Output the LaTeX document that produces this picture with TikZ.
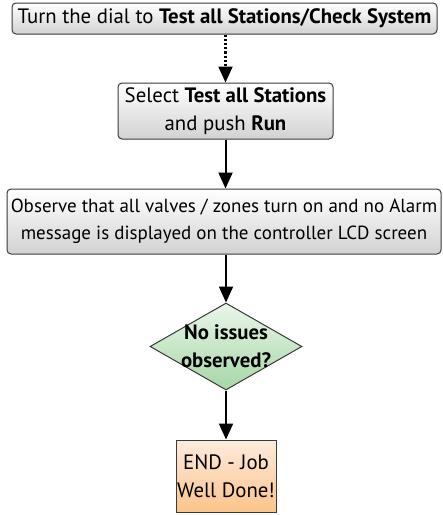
\documentclass[tikz,border=0pt]{standalone}
\usepackage{fontspec}
\setmainfont{PT Sans}
\usetikzlibrary{arrows.meta,shapes.geometric}
\definecolor{boxborder}{HTML}{3A3A3A}
\definecolor{graybot}{HTML}{D2D2D2}
\definecolor{greentop}{HTML}{EAF6EA}
\definecolor{greenbot}{HTML}{A6D7A6}
\definecolor{orangetop}{HTML}{FDEBDD}
\definecolor{orangebot}{HTML}{FBC48A}
\tikzset{
  graybox/.style={draw=boxborder, line width=1pt, rounded corners=4pt,
    top color=white, bottom color=graybot, align=center, inner sep=0pt},
  decision/.style={diamond, draw=boxborder, line width=1pt,
    top color=greentop, bottom color=greenbot, inner sep=0pt, aspect=1.75},
  endbox/.style={draw=boxborder, line width=1pt,
    top color=orangetop, bottom color=orangebot, align=center, inner sep=0pt},
  flow/.style={line width=2pt, -{Triangle[length=16pt,width=14pt]}},
  dotflow/.style={line width=2.2pt, dotted, -{Triangle[length=16pt,width=14pt]}},
  txt/.style={font=\fontsize{19}{27}\selectfont},
  bigtxt/.style={font=\fontsize{20.8}{28}\selectfont}
}
\begin{document}
\begin{tikzpicture}[x=1pt,y=-1pt]
\useasboundingbox (0,0) rectangle (443,515);
\node[graybox, bigtxt, minimum width=425pt, minimum height=31pt] (b1) at (224.5,18.5)
  {Turn the dial to \textbf{Test all Stations/Check System}};
\node[graybox, bigtxt, minimum width=215pt, minimum height=56pt] (b2) at (225.5,111)
  {Select \textbf{Test all Stations}\\ and push \textbf{Run}};
\node[graybox, txt, minimum width=434pt, minimum height=65pt] (b3) at (224,221.5)
  {Observe that all valves / zones turn on and no Alarm\\ message is displayed on the controller LCD screen};
\node[decision, minimum width=152pt, minimum height=87pt] (d) at (226,346.5) {};
\node[bigtxt, align=center, inner sep=0pt] (dt) at (d.center)
  {\textbf{No issues}\\ \textbf{observed?}};
\node[endbox, bigtxt, minimum width=100pt, minimum height=72pt] (e) at (226,476)
  {END - Job\\ Well Done!};
\draw[dotflow] (b1.south -| b2.north) -- (b2.north);
\draw[flow] (b2.south) -- (b2.south |- b3.north);
\draw[flow] (b3.south -| d.north) -- (d.north);
\draw[flow] (d.south) -- (e.north);
\end{tikzpicture}
\end{document}
